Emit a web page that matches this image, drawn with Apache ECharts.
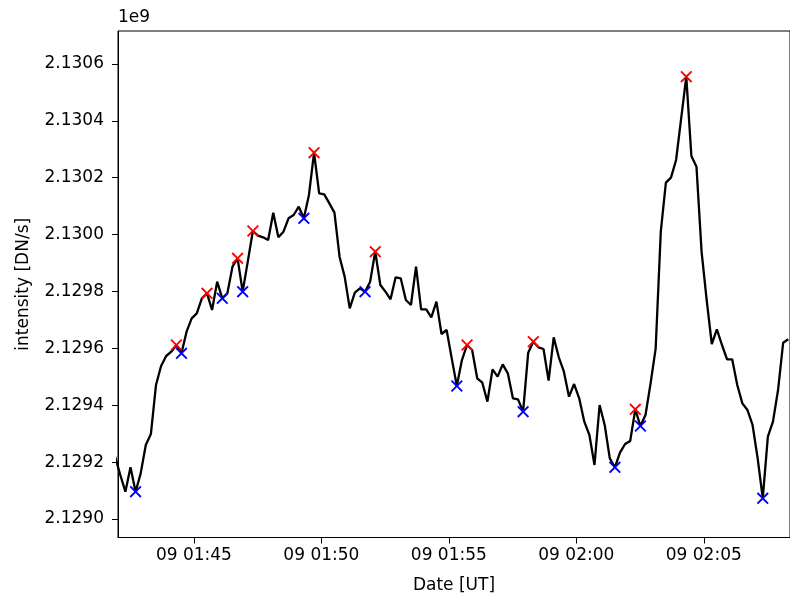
<!DOCTYPE html>
<html>
<head>
<meta charset="utf-8">
<script src="https://cdn.jsdelivr.net/npm/echarts@6/dist/echarts.min.js"></script>
<style>html,body{margin:0;padding:0;background:#fff;}#c{width:790px;height:600px;}</style>
</head>
<body>
<div id="c"></div>
<script>
// time in seconds since 00:00 UT on day 09; 12 s cadence
var startSec = 6114.8;
var cadenceSec = 12;
var intensity = [2129219000, 2129154700, 2129096100, 2129181700, 2129096100, 2129160600, 2129260200, 2129298900, 2129471200, 2129538000,
 2129573200, 2129588400, 2129611900, 2129582600, 2129658800, 2129705700, 2129723200, 2129776000, 2129793600, 2129735000,
 2129834600, 2129776000, 2129793600, 2129887300, 2129916600, 2129799400, 2129904900, 2130012800, 2129996400, 2129990500,
 2129981100, 2130077200, 2129990500, 2130010400, 2130057300, 2130069000, 2130098300, 2130057300, 2130139400, 2130288200,
 2130145200, 2130141700, 2130110000, 2130077200, 2129922500, 2129852200, 2129740800, 2129795900, 2129811100, 2129799400,
 2129834600, 2129940100, 2129822900, 2129799400, 2129772500, 2129849800, 2129846300, 2129770100, 2129752500, 2129887300,
 2129737300, 2129737300, 2129709200, 2129764300, 2129650600, 2129664600, 2129565000, 2129467700, 2129559100, 2129611900,
 2129594300, 2129494700, 2129479400, 2129412600, 2129526300, 2129500500, 2129543900, 2129512200, 2129424300, 2129420800,
 2129377400, 2129584900, 2129623600, 2129603700, 2129597800, 2129486500, 2129638800, 2129568500, 2129518100, 2129430200,
 2129474700, 2129424300, 2129342300, 2129295400, 2129189900, 2129400900, 2129330600, 2129213300, 2129181700, 2129233300,
 2129263700, 2129274300, 2129385700, 2129327000, 2129365700, 2129477100, 2129600200, 2130010400, 2130182700, 2130200300,
 2130262400, 2130409000, 2130555500, 2130276500, 2130239000, 2129940100, 2129770100, 2129615400, 2129667000, 2129611900,
 2129561500, 2129561500, 2129471200, 2129406800, 2129383300, 2129330600, 2129213300, 2129072700, 2129289500, 2129342300,
 2129453600, 2129620100, 2129631800];
var peakIdx = [12, 18, 24, 27, 39, 51, 69, 82, 102, 112];
var troughIdx = [4, 13, 21, 25, 37, 49, 67, 80, 98, 103, 127];
var xTickValues = [6300, 6600, 6900, 7200, 7500];
var xTickLabels = ['09 01:45', '09 01:50', '09 01:55', '09 02:00', '09 02:05'];
var yTickValues = [2129000000, 2129200000, 2129400000, 2129600000, 2129800000, 2130000000, 2130200000, 2130400000, 2130600000];
var xMin = 6121.4, xMax = 7702.9;
var yMin = 2128935000, yMax = 2130716000;

var lineData = intensity.map(function (v, i) { return [startSec + i * cadenceSec, v]; });
var peakData = peakIdx.map(function (i) { return lineData[i]; });
var troughData = troughIdx.map(function (i) { return lineData[i]; });

var xSym = 'path://M0,1.1L1.1,0L5,3.9L8.9,0L10,1.1L6.1,5L10,8.9L8.9,10L5,6.1L1.1,10L0,8.9L3.9,5Z';
var font = 'DejaVu Sans';

var chart = echarts.init(document.getElementById('c'), null, {renderer: 'canvas'});
chart.setOption({
  animation: false,
  backgroundColor: '#ffffff',
  textStyle: {fontFamily: font},
  grid: {left: 118, top: 31, right: -1, bottom: 62.5, show: true, borderColor: '#000', borderWidth: 1, backgroundColor: 'transparent'},
  graphic: [{type: 'text', left: 118, top: 9, style: {text: '1e9', font: '17px "DejaVu Sans"', fill: '#000'}}],
  xAxis: {
    type: 'value', min: xMin, max: xMax,
    name: 'Date [UT]', nameLocation: 'middle', nameGap: 40,
    nameTextStyle: {fontSize: 17, color: '#000', fontFamily: font},
    axisLine: {show: true, lineStyle: {color: '#000', width: 1}},
    axisTick: {show: true, length: 6, customValues: xTickValues, lineStyle: {color: '#000'}},
    axisLabel: {show: true, customValues: xTickValues, margin: 10, fontSize: 17, color: '#000', fontFamily: font,
      formatter: function (v) { var i = xTickValues.indexOf(v); return i >= 0 ? xTickLabels[i] : ''; }},
    splitLine: {show: false}
  },
  yAxis: {
    type: 'value', min: yMin, max: yMax, scale: true,
    name: 'intensity [DN/s]', nameLocation: 'middle', nameGap: 86, nameRotate: 90,
    nameTextStyle: {fontSize: 17, color: '#000', fontFamily: font},
    axisLine: {show: true, lineStyle: {color: '#000', width: 1}},
    axisTick: {show: true, length: 6, customValues: yTickValues, lineStyle: {color: '#000'}},
    axisLabel: {show: true, customValues: yTickValues, margin: 14, fontSize: 17, color: '#000', fontFamily: font,
      formatter: function (v) { return (v / 1e9).toFixed(4); }},
    splitLine: {show: false}
  },
  series: [
    {type: 'line', data: lineData, showSymbol: false, symbol: 'none', clip: true,
     lineStyle: {color: '#000', width: 2.3}, z: 2},
    {type: 'scatter', data: peakData, symbol: xSym, symbolSize: 12, itemStyle: {color: '#ff0000', opacity: 1}, z: 3},
    {type: 'scatter', data: troughData, symbol: xSym, symbolSize: 12, itemStyle: {color: '#0000ff', opacity: 1}, z: 3}
  ]
});
</script>
</body>
</html>
